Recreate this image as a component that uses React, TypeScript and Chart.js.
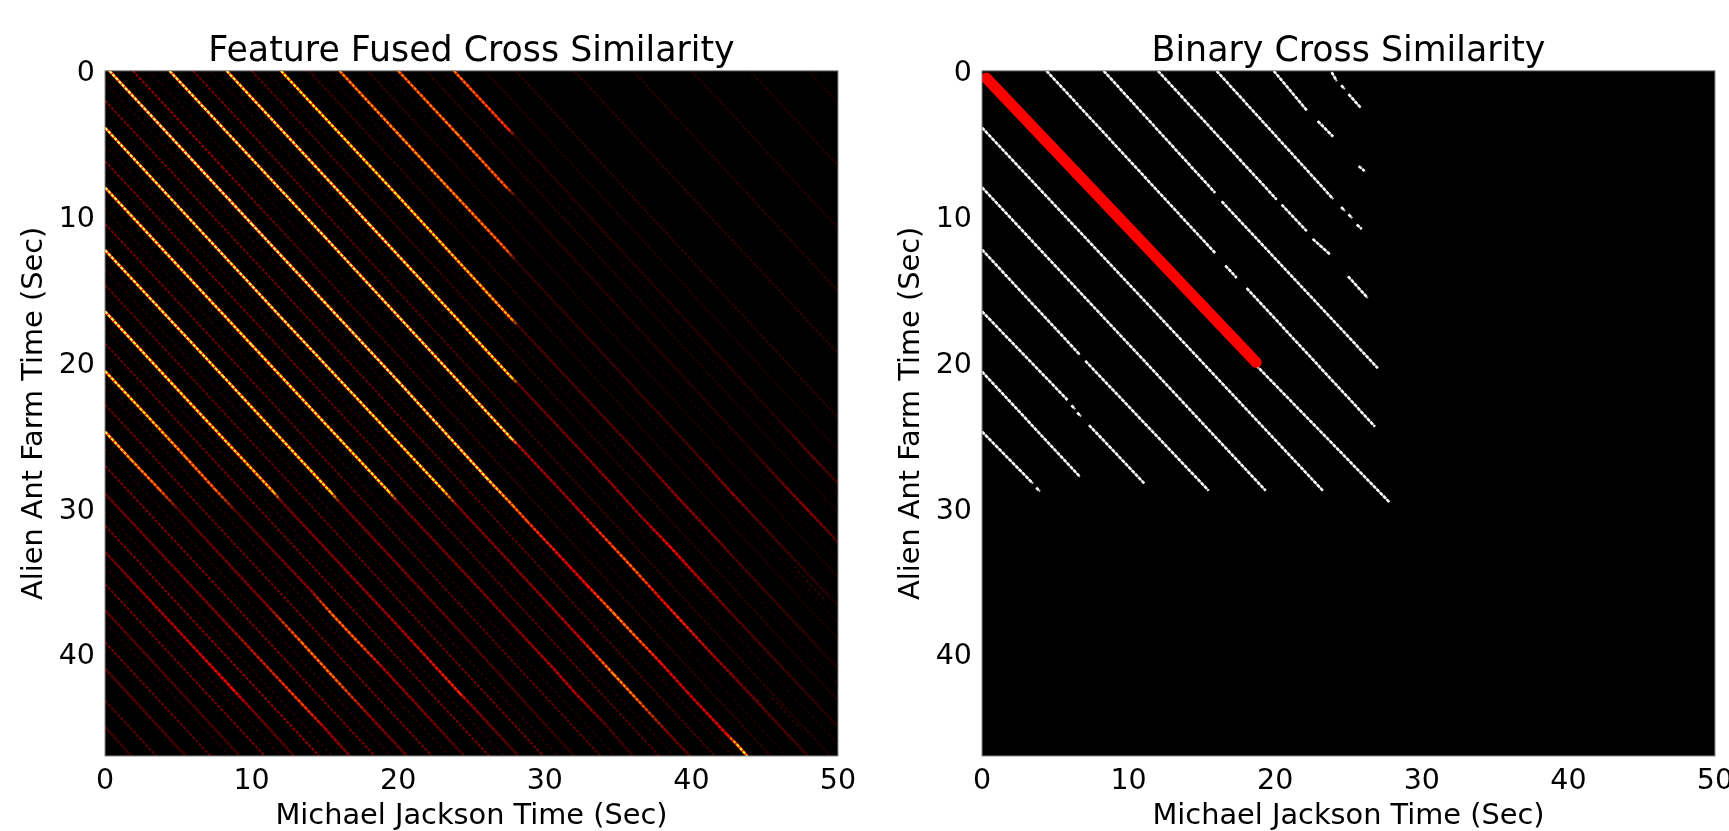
import React, { useEffect, useRef } from "react";
import { Chart, registerables } from "chart.js";
Chart.register(...registerables);

type P = number[];

// Feature fused similarity: ridges as waypoints [sec x, sec y, strength]
const fusedBright: P[][] = [
  [[0.3,0,.9],[10,10.5,.9],[20,21.3,.88],[26,27.9,.86],[27.8,29.8,.66],[28.8,30.9,.56],[31.7,34,.42],[32.9,35.3,.47],[34.7,37.2,.66],[36,38.6,.64],[37.9,40.6,.47],[39.7,42.6,.38],[42.4,45.5,.44],[43.1,46.2,.76],[43.8,47,.86]],
  [[4.4,0,.88],[15,11.4,.88],[27.7,25.2,.86],[28.2,25.7,.36],[31,28.7,.3],[32.2,30,.36],[34.7,32.7,.58],[36,34.1,.64],[37.9,36.2,.44],[39,37.4,.52],[41.3,39.9,.35],[43.1,41.8,.25],[50,49.2,.08]],
  [[8.3,0,.86],[18,10.5,.88],[27.7,21,.82],[28.2,21.5,.22],[32.4,26,.25],[34.7,28.5,.3],[36.5,30.5,.3],[38.5,32.6,.47],[40.6,34.9,.35],[42.8,37.3,.2],[50,45,.09]],
  [[12,0,.82],[20,8.6,.82],[27.7,17,.72],[28.2,17.5,.16],[36.3,26.2,.2],[39.2,29.4,.3],[42,32.4,.25],[42.8,33.3,.18],[50,41,.08]],
  [[16,0,.66],[22,6.5,.7],[27.4,12.3,.62],[28,13,.12],[39.9,25.8,.15],[42.8,29,.3],[44.2,30.5,.2],[47,33.5,.14],[50,36.7,.08]],
  [[20,0,.64],[24,4.3,.66],[27.3,7.9,.6],[28,8.6,.1],[44,25.9,.1],[46.5,28.6,.24],[47.9,30.1,.3],[49.7,32,.2],[50,32.4,.14]],
  [[23.8,0,.64],[27.5,4,.54],[28,4.5,.1],[46,24,.1],[48.3,26.5,.22],[50,28.3,.14]],
  [[0,3.9,.88],[12,16.9,.88],[23,28.7,.82],[24,29.8,.26],[29,35.2,.28],[32.4,38.9,.38],[34.7,41.4,.68],[36,42.8,.66],[38.3,45.3,.26],[39.9,47,.18]],
  [[0,8,.88],[10,18.8,.86],[19.3,28.8,.82],[20,29.6,.24],[25.6,35.6,.26],[27.8,38,.26],[30.6,41,.36],[32,42.6,.36],[34.2,44.9,.18],[36,47,.12]],
  [[0,12.3,.88],[8,20.9,.86],[15.4,28.9,.8],[16,29.6,.24],[20,33.9,.26],[26,40.4,.18],[32,47,.12]],
  [[0,16.5,.88],[6,23,.84],[11.5,28.9,.74],[12,29.5,.24],[20,38.1,.32],[24.2,42.7,.52],[24.7,43.2,.3],[28.2,47,.16]],
  [[0,20.6,.86],[3,23.8,.78],[5.5,26.5,.66],[7.5,28.7,.62],[9,30.3,.18],[14,35.6,.28],[15.5,37.3,.64],[17,38.9,.62],[19,41,.34],[24.5,47,.16]],
  [[0,24.75,.86],[1.8,26.7,.7],[3.7,28.7,.62],[5,30.1,.2],[11,36.6,.26],[13.4,39.2,.64],[15.5,41.5,.64],[18,44.2,.3],[20.6,47,.2]],
  [[0,29,.22],[8,37.6,.26],[13.4,43.4,.56],[15,45.1,.34],[16.7,47,.24]],
  [[0,33,.22],[8.7,42.4,.46],[10,43.8,.26],[12.9,47,.16]],
  [[0,37,.2],[9.2,47,.16]],
  [[0,41,.2],[5.5,47,.16]],
  [[0,45,.16],[1.8,47,.12]],
];

const fusedSecondary: P[][] = [
  [[1.9,0,.3],[8,6.6,.3],[12,10.9,.2],[28,28.2,.12],[45.4,47,.12]],
  [[6,0,.25],[28,23.8,.15],[49.5,47,.1]],
  [[10,0,.2],[28,19.4,.12],[50,43.2,.1]],
  [[13.9,0,.15],[28,15.2,.1],[50,39,.08]],
  [[17.9,0,.13],[28,10.9,.08],[50,34.7,.08]],
  [[21.9,0,.12],[50,30.3,.07]],
  [[25.9,0,.1],[50,26,.07]],
  [[28,0,.12],[50,23.8,.12]],
  [[32,0,.12],[50,19.4,.12]],
  [[36,0,.1],[50,15.1,.12]],
  [[40,0,.1],[50,10.8,.1]],
  [[44,0,.1],[50,6.5,.1]],
  [[48,0,.08],[50,2.2,.08]],
  [[0,2.05,.25],[25,29,.2],[41.6,47,.15]],
  [[0,6.2,.25],[21,28.8,.2],[37.8,47,.18]],
  [[0,10.5,.25],[17,28.8,.2],[33.8,47,.2]],
  [[0,14.7,.2],[13,28.7,.2],[29.9,47,.25]],
  [[0,18.7,.22],[26.2,47,.25]],
  [[0,22.9,.22],[22.3,47,.25]],
  [[0,27.1,.25],[18.4,47,.25]],
  [[0,31.2,.25],[14.6,47,.3]],
  [[0,35.2,.25],[10.9,47,.25]],
  [[0,39.2,.25],[7.2,47,.2]],
  [[0,43.2,.2],[3.5,47,.2]],
];

const fusedFaint: P[][] = [
  [[3,0,.1],[46.5,47,.08]],
  [[7.2,0,.1],[50,46.2,.08]],
  [[11,0,.09],[50,42.1,.07]],
  [[15,0,.08],[50,37.8,.07]],
  [[19,0,.07],[50,33.5,.06]],
  [[23,0,.07],[50,29.2,.06]],
  [[0,.8,.1],[42.8,47,.1]],
  [[0,5.1,.1],[38.8,47,.1]],
  [[0,9.4,.1],[34.8,47,.1]],
  [[0,13.6,.1],[30.9,47,.12]],
  [[0,17.6,.1],[27.2,47,.12]],
  [[0,21.6,.1],[23.5,47,.12]],
  [[0,25.9,.1],[19.5,47,.12]],
  [[0,30.2,.1],[15.5,47,.12]],
  [[0,34,.1],[12,47,.12]],
  [[0,37.8,.1],[8.5,47,.1]],
  [[30.6,33,.1],[33,35.6,.14]],
  [[39,33.4,.12],[41.6,36.2,.1]],
  [[42.5,41,.12],[45,43.7,.16]],
  [[45.5,43,.16],[47.5,45.2,.1]],
  [[47,34,.12],[49,36.2,.14]],
];

// Binary similarity: runs of set cells as [sec x, sec y]
const binaryRuns: P[][] = [
  [[18.7,20.2],[27.8,29.6]],
  [[4.4,0],[15.9,12.5]],
  [[16.6,13.37],[17.37,14.2]],
  [[18.05,14.9],[26.8,24.4]],
  [[8.3,0],[15.9,8.37]],
  [[16.35,8.95],[27,20.4]],
  [[12,0],[20.1,8.83]],
  [[20.44,9.18],[22.15,11]],
  [[22.56,11.53],[23.74,12.6]],
  [[24.97,14.1],[26.3,15.57]],
  [[16,0],[23.95,8.79]],
  [[24.5,9.35],[24.75,9.6]],
  [[25,9.85],[25.25,10.1]],
  [[25.56,10.55],[25.9,10.85]],
  [[19.9,0],[22.15,2.71]],
  [[22.9,3.45],[23.95,4.52]],
  [[25.7,6.54],[26.1,6.88]],
  [[23.85,.1],[24.2,.7]],
  [[24.5,1.0],[24.75,1.25]],
  [[25,1.6],[25.83,2.53]],
  [[0,3.9],[23.25,28.8]],
  [[0,8],[19.35,28.8]],
  [[0,12.27],[6.68,19.48]],
  [[7.05,19.9],[15.46,28.8]],
  [[0,16.5],[5.83,22.58]],
  [[6.1,22.95],[6.35,23.2]],
  [[6.5,23.45],[6.75,23.7]],
  [[7.3,24.3],[11.07,28.3]],
  [[0,20.63],[6.68,27.85]],
  [[0,24.75],[3.47,28.3]],
  [[3.7,28.6],[3.95,28.85]],
];
const binaryPath: P[] = [[0.3,0.5],[18.7,20]];

const xTicksMax = 50;
const yTicksMax = 47;
const titles = ["Feature Fused Cross Similarity", "Binary Cross Similarity"];
const xTitle = "Michael Jackson Time (Sec)";
const yTitle = "Alien Ant Farm Time (Sec)";

const FONT = "'DejaVu Sans'";
const W = 877, H = 831;

function hot(v: number) {
  const r = Math.min(1, v / 0.365);
  const g = Math.max(0, Math.min(1, (v - 0.365) / 0.381));
  const b = Math.max(0, Math.min(1, (v - 0.746) / 0.254));
  return `rgb(${Math.round(r * 255)},${Math.round(g * 255)},${Math.round(b * 255)})`;
}

const tone = (v: number, k: number) => Math.pow(v, 1.25) * k;

function rampLine(pts: P[], k: number, width: number, order: number, dash: number[]) {
  return {
    data: pts.map((p) => ({ x: p[0], y: p[1] })),
    showLine: true, pointRadius: 0, borderWidth: width, order, borderDash: dash,
    borderColor: hot(tone(pts[0][2], k)),
    segment: {
      borderColor: (c: any) => {
        const a = tone(pts[c.p0DataIndex][2], k), b = tone(pts[c.p1DataIndex][2], k);
        const g = c.chart.ctx.createLinearGradient(c.p0.x, c.p0.y, c.p1.x, c.p1.y);
        g.addColorStop(0, hot(a)); g.addColorStop(1, hot(b));
        return g;
      },
    },
  };
}

function fusedDatasets() {
  return [
    ...fusedFaint.map((p) => rampLine(p, 0.9, 2, 5, [3, 3])),
    ...fusedSecondary.map((p) => rampLine(p, 0.95, 2.1, 4, [3.2, 1.4])),
    ...fusedBright.map((p) => rampLine(p, 0.45, 3, 3, [])),
    ...fusedBright.map((p) => rampLine(p, 0.97, 2.2, 2, [3.4, 1.2])),
  ];
}
function binaryDatasets() {
  return [
    { data: binaryPath.map((p) => ({ x: p[0], y: p[1] })), showLine: true, pointRadius: 0, borderWidth: 11, borderColor: "#ff0000", borderCapStyle: "round", order: 0 },
    ...binaryRuns.map((r) => ({ data: r.map((p) => ({ x: p[0], y: p[1] })), showLine: true, pointRadius: 0, borderWidth: 1.8, borderColor: "#a8a8a8", order: 2 })),
    ...binaryRuns.map((r) => ({ data: r.map((p) => ({ x: p[0], y: p[1] })), showLine: true, pointRadius: 0, borderWidth: 2.6, borderColor: "#ffffff", borderDash: [3.4, 1.4], order: 1 })),
  ];
}

const framePlugin = {
  id: "frame",
  beforeDatasetsDraw(c: any) {
    const { left, top, width, height } = c.chartArea;
    c.ctx.save(); c.ctx.fillStyle = "#000"; c.ctx.fillRect(left, top, width, height); c.ctx.restore();
  },
  afterDatasetsDraw(c: any) {
    const { left, top, width, height } = c.chartArea;
    c.ctx.save(); c.ctx.strokeStyle = "#8a8a8a"; c.ctx.lineWidth = 1; c.ctx.strokeRect(left, top, width, height); c.ctx.restore();
  },
};

function Panel({ left, index }: { left: number; index: number }) {
  const ref = useRef<HTMLCanvasElement>(null);
  useEffect(() => {
    const chart = new Chart(ref.current!, {
      type: "scatter",
      data: { datasets: (index === 0 ? fusedDatasets() : binaryDatasets()) as any },
      plugins: [framePlugin],
      options: {
        animation: false, responsive: false, devicePixelRatio: 1,
        layout: { padding: { left: 0, right: 39, top: 31, bottom: 0 } },
        plugins: {
          legend: { display: false }, tooltip: { enabled: false },
          title: { display: true, text: titles[index], color: "#000", fullSize: false, font: { family: FONT, size: 34.8, weight: "normal", lineHeight: 1 }, padding: { top: 4, bottom: 1 } },
        },
        scales: {
          x: {
            type: "linear", min: 0, max: xTicksMax,
            grid: { display: false }, border: { display: false },
            ticks: { stepSize: 10, maxRotation: 0, color: "#000", font: { family: FONT, size: 28.5 }, padding: 0 },
            title: { display: true, text: xTitle, color: "#000", font: { family: FONT, size: 28.8, lineHeight: 1 }, padding: { top: 0, bottom: 0 } },
            afterFit: (s: any) => { s.height = 75; },
          },
          y: {
            type: "linear", reverse: true, min: 0, max: yTicksMax,
            grid: { display: false }, border: { display: false },
            ticks: { stepSize: 10, includeBounds: false, color: "#000", font: { family: FONT, size: 28.5 }, padding: 2 },
            title: { display: true, text: yTitle, color: "#000", font: { family: FONT, size: 28.8, lineHeight: 1 }, padding: { top: 20, bottom: 0 } },
            afterFit: (s: any) => {
              s.width = 105;
              if (!s.__shifted) {
                s.__shifted = true;
                const draw = s.drawLabels;
                s.drawLabels = function (area: any) {
                  const g = this.ctx; g.save(); g.translate(0, 3); draw.call(this, area); g.restore();
                };
              }
            },
          },
        },
      } as any,
    });
    return () => chart.destroy();
  }, [index]);
  return <canvas ref={ref} width={W} height={H} style={{ position: "absolute", left, top: 0, width: W, height: H }} />;
}

export default function App() {
  return (
    <div style={{ position: "fixed", inset: 0, overflow: "hidden", background: "#fff" }}>
      <Panel left={0} index={0} />
      <Panel left={877} index={1} />
    </div>
  );
}
